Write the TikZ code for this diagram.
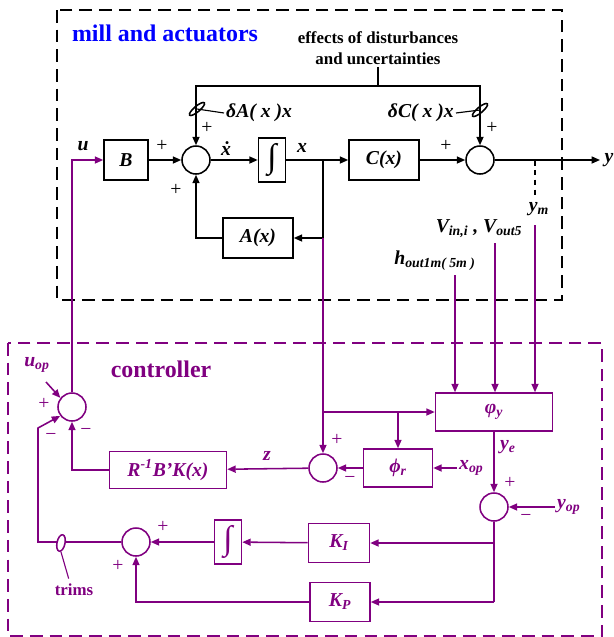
\documentclass[tikz,border=0pt]{standalone}
\usepackage{fontspec}
\setmainfont{Liberation Serif}
\usepackage{amsmath,bm}
\usepackage{xcolor}
\usepackage{tikz}
\usetikzlibrary{arrows.meta}
\definecolor{ctl}{RGB}{128,0,128}

\begin{document}
\begin{tikzpicture}[x=0.25mm,y=-0.25mm,line width=1.1pt,>={Triangle[length=6pt,width=5pt]},
blk/.style={draw,minimum width=11mm,minimum height=10mm,inner sep=1pt,font=\fontsize{14}{16}\selectfont\bfseries\itshape},
sumc/.style={draw,circle,minimum size=7mm,inner sep=0pt},
lbl/.style={inner sep=1pt,font=\fontsize{14}{16}\selectfont\bfseries\itshape},
sgn/.style={inner sep=0pt,font=\fontsize{14}{16}\selectfont},
intg/.style={draw,minimum width=6.75mm,minimum height=11mm,inner sep=0pt,font=\fontsize{24}{24}\selectfont},
pp/.style={ctl}]
\useasboundingbox (0,0) rectangle (614,637);
\draw[dash pattern=on 9pt off 5pt] (57,10) rectangle (562,300);
\draw[pp,dash pattern=on 9pt off 5pt] (8,343) rectangle (602,636);
\node[font=\fontsize{17}{20}\selectfont\bfseries,text=blue] (tmill) at (165,33) {mill and actuators};
\node[font=\fontsize{12}{15}\selectfont\bfseries,align=center,inner sep=1pt] (teff) at (378,48) {effects of disturbances\\and uncertainties};
\node[pp,font=\fontsize{17}{20}\selectfont\bfseries] (tctl) at (161,369) {controller};

\node[blk] (B) at (126,160) {B};
\node[sumc] (sumA) at (196,160) {};
\node[intg] (intA) at (272,160) {∫};
\node[blk,minimum width=17.5mm] (C) at (384,160) {C(x)};
\node[sumc] (sumY) at (480,160) {};
\node[blk,minimum width=17.5mm] (A) at (258,238) {A(x)};
\coordinate (yout) at (600,160);
\coordinate (brX) at (323,160);
\coordinate (brA) at (323,238);
\coordinate (dm) at (378,86);
\coordinate (eA) at (197,109);
\coordinate (eC) at (480,110);
\coordinate (brY) at (535,160);
\coordinate (ymd) at (535,196);

\draw (teff.south) -- (dm);
\draw[->] (dm) -| (sumA);
\draw[->] (dm) -| (sumY);
\draw (eA) ellipse [x radius=0.7mm,y radius=2.4mm,rotate=-50];
\draw (eC) ellipse [x radius=0.7mm,y radius=2.4mm,rotate=-50];
\node[lbl,anchor=west] (ldA) at (224,113) {δA( x )x};
\node[lbl,anchor=east] (ldC) at (456,113) {δC( x )x};
\draw[line width=0.8pt] (eA) -- (ldA.west);
\draw[line width=0.8pt] (ldC.east) -- (eC);

\draw[->] (B) -- (sumA);
\draw[->] (sumA) -- (intA);
\draw[->] (intA) -- (C);
\draw[->] (C) -- (sumY);
\draw[->] (sumY) -- (yout);
\draw[->] (brX) |- (A);
\draw[->] (A) -| (sumA);
\draw[line width=0.8pt,dash pattern=on 4pt off 3pt] (brY) -- (ymd);

\node[lbl] (lu) at (83,146) {u};
\node[lbl] (lxd) at (226,149) {ẋ};
\node[lbl] (lx) at (302,148) {x};
\node[lbl] (ly) at (609,160) {y};
\node[lbl] (lym) at (539,209) {y\textsubscript{m}};
\node[lbl] (lV) at (479,229) {V\textsubscript{in,i} , V\textsubscript{out5}};
\node[lbl] (lh) at (435,261) {h\textsubscript{out1m( 5m )}};
\node[sgn] at (207,128) {+};
\node[sgn] at (492,128) {+};
\node[sgn] at (162,146) {+};
\node[sgn] at (176,190) {+};
\node[sgn] at (446,146) {+};

\node[sumc,pp] (sumU) at (72,407) {};
\node[blk,pp,minimum width=29.25mm,minimum height=9.25mm] (R) at (168,470) {R\textsuperscript{-1}B'K(x)};
\node[sumc,pp] (sumZ) at (323,468) {};
\node[blk,pp,minimum width=17.25mm,minimum height=9.5mm] (phir) at (398,468) {ϕ\textsubscript{r}};
\node[blk,pp,minimum width=29.25mm,minimum height=9.5mm] (phiy) at (494,412) {φ\textsubscript{y}};
\node[sumc,pp] (sumE) at (494,507) {};
\node[blk,pp,minimum width=15.25mm,minimum height=9.75mm] (KI) at (339,543) {K\textsubscript{I}};
\node[blk,pp,minimum width=15mm,minimum height=9.75mm] (KP) at (340,602) {K\textsubscript{P}};
\node[intg,pp] (intB) at (228,542) {∫};
\node[sumc,pp] (sumT) at (136,542) {};
\coordinate (brF) at (323,412);
\coordinate (brR) at (398,412);
\coordinate (inH) at (455,275);
\coordinate (inV) at (495,243);
\coordinate (inM) at (535,225);
\coordinate (uop) at (46,382);
\coordinate (brK) at (494,543);
\coordinate (brP) at (494,602);
\coordinate (tl) at (38,542);
\coordinate (tu) at (38,428);
\coordinate (etr) at (61,543);

\draw[pp,->] (inH) -- (inH |- phiy.north);
\draw[pp,->] (inV) -- (inV |- phiy.north);
\draw[pp,->] (inM) -- (inM |- phiy.north);
\draw[pp,->] (brA) -- (sumZ);
\draw[pp,->] (brF) -- (phiy);
\draw[pp,->] (brR) -- (phir);
\draw[pp,->] (phir) -- (sumZ);
\draw[pp,->] (sumZ) -- (R);
\draw[pp,->] (R) -| (sumU);
\draw[pp,->] (sumU) |- (B);
\draw[pp,->] (uop) -- (sumU.142);
\draw[pp,->] (phiy) -- (sumE);
\node[lbl,pp,anchor=west] (lxop) at (457,468) {x\textsubscript{op}};
\node[lbl,pp,anchor=west] (lyop) at (555,507) {y\textsubscript{op}};
\draw[pp,->] (lxop) -- (phir);
\draw[pp,->] (lyop) -- (sumE);
\draw[pp] (sumE) -- (brP);
\draw[pp,->] (brK) -- (KI);
\draw[pp,->] (brP) -- (KP);
\draw[pp,->] (KI) -- (intB);
\draw[pp,->] (intB) -- (sumT);
\draw[pp,->] (KP) -| (sumT);
\draw[pp,->] (sumT) -- (tl) -- (tu) -- (sumU.217);
\draw[pp,fill=white] (etr) ellipse [x radius=1mm,y radius=2.1mm,rotate=-12];
\node[pp,font=\fontsize{12}{14}\selectfont\bfseries] (ltr) at (74,590) {trims};
\draw[pp,line width=0.8pt] (61,552) -- (ltr.115);

\node[lbl,pp] (luop) at (37,365) {u\textsubscript{op}};
\node[lbl,pp] (lz) at (267,456) {z};
\node[lbl,pp] (lye) at (508,447) {y\textsubscript{e}};
\node[sgn,pp] at (44,404) {+};
\node[sgn,pp] at (51,437) {−};
\node[sgn,pp] at (86,432) {−};
\node[sgn,pp] at (337,440) {+};
\node[sgn,pp] at (350,480) {−};
\node[sgn,pp] at (510,483) {+};
\node[sgn,pp] at (526,518) {−};
\node[sgn,pp] at (163,527) {+};
\node[sgn,pp] at (118,566) {+};
\end{tikzpicture}
\end{document}
